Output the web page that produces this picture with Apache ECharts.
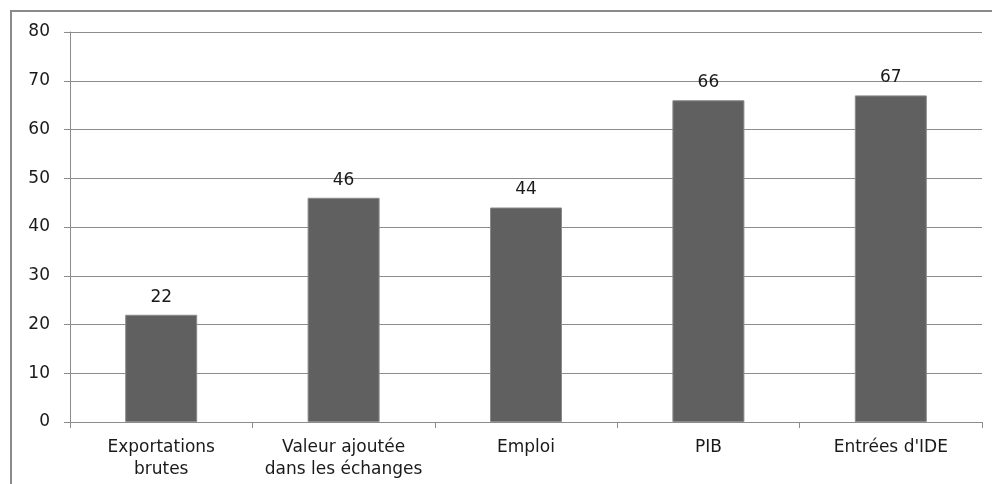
<!DOCTYPE html>
<html>
<head>
<meta charset="utf-8">
<script src="https://cdn.jsdelivr.net/npm/echarts@6/dist/echarts.min.js"></script>
<style>
  html, body { margin: 0; padding: 0; background: #fff; }
  #chart { width: 992px; height: 484px; }
</style>
</head>
<body>
<div id="chart"></div>
<script>
const categories = ["Exportations\nbrutes", "Valeur ajoutée\ndans les échanges", "Emploi", "PIB", "Entrées d'IDE"];
const values = [22, 46, 44, 66, 67];
const yTicks = { min: 0, max: 80, interval: 10 };

const chart = echarts.init(document.getElementById("chart"));
const font = "'DejaVu Sans', sans-serif";

chart.setOption({
  animation: false,
  graphic: [{
    type: "rect",
    shape: { x: 11, y: 11, width: 1000, height: 500 },
    style: { fill: "none", stroke: "#8a8a8a", lineWidth: 2 },
    silent: true
  }],
  grid: { left: 70, right: 10, top: 32, bottom: 62 },
  xAxis: {
    type: "category",
    data: categories,
    axisLine: { lineStyle: { color: "#8c8c8c", width: 1 } },
    axisTick: { show: true, length: 6, lineStyle: { color: "#8c8c8c" } },
    axisLabel: {
      color: "#1a1a1a",
      fontFamily: font,
      fontSize: 17,
      lineHeight: 22,
      margin: 15,
      interval: 0
    }
  },
  yAxis: {
    type: "value",
    min: yTicks.min,
    max: yTicks.max,
    interval: yTicks.interval,
    axisLine: { show: true, lineStyle: { color: "#8c8c8c", width: 1 } },
    axisTick: { show: true, length: 6, lineStyle: { color: "#8c8c8c" } },
    axisLabel: {
      color: "#1a1a1a",
      fontFamily: font,
      fontSize: 17,
      margin: 20
    },
    splitLine: { lineStyle: { color: "#8c8c8c", width: 1 } }
  },
  series: [{
    type: "bar",
    data: values,
    barWidth: 72,
    itemStyle: { color: "#606060", borderColor: "#8a8a8a", borderWidth: 1 },
    label: {
      show: true,
      position: "top",
      distance: 9,
      color: "#1a1a1a",
      fontFamily: font,
      fontSize: 17
    }
  }]
});
</script>
</body>
</html>
